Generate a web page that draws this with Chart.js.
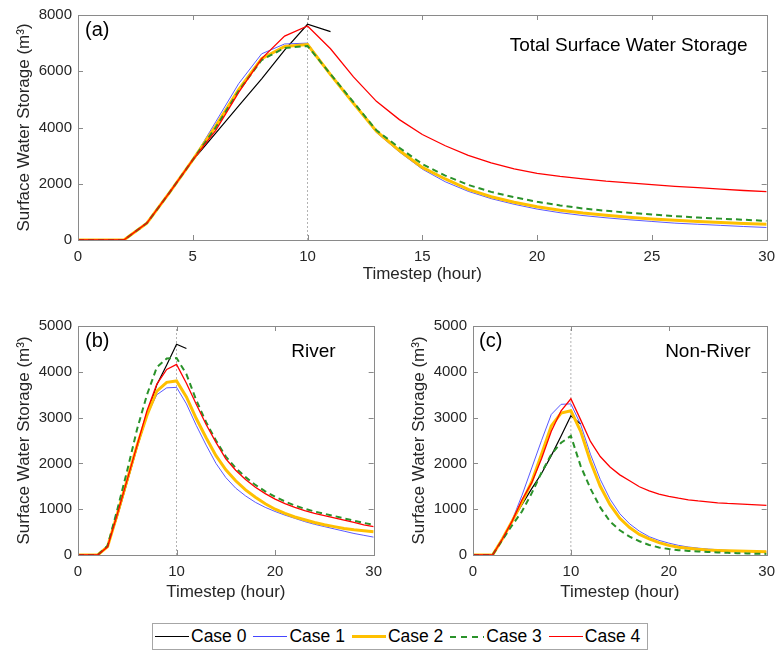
<!DOCTYPE html>
<html>
<head>
<meta charset="utf-8">
<script src="https://cdn.jsdelivr.net/npm/chart.js@4.4.0/dist/chart.umd.min.js"></script>
<style>
    html, body { margin: 0; padding: 0; background: #fff; }
    body { width: 783px; height: 651px; position: relative; overflow: hidden; font-family: 'Liberation Sans', Arial, sans-serif; }
    canvas { position: absolute; }
    #legend {
        position: absolute; left: 152px; top: 623px; width: 496px; height: 27px;
        box-sizing: border-box; border: 1px solid #a6a6a6; background: #fff;
        display: flex; align-items: center; padding-left: 2px;
        font-size: 17.5px; color: #000; white-space: nowrap;
    }
    #legend .item { display: flex; align-items: center; margin-right: 7px; }
    #legend .swatch { display: inline-block; width: 34px; margin-right: 2px; }
</style>
</head>
<body>
<canvas id="totalChart" width="783" height="285" style="left:0;top:0"></canvas>
<canvas id="riverChart" width="390" height="303" style="left:0;top:300px"></canvas>
<canvas id="nonRiverChart" width="388" height="303" style="left:395px;top:300px"></canvas>
<div id="legend"></div>

<script>
    // Timestep (hour)
    const hours = [0, 1, 2, 3, 4, 5, 6, 7, 8, 9, 10, 11, 12, 13, 14, 15, 16, 17, 18, 19, 20,
                   21, 22, 23, 24, 25, 26, 27, 28, 29, 30];
    const caseNames = ['Case 0', 'Case 1', 'Case 2', 'Case 3', 'Case 4'];
    const peakHour = 10;

    // (a) Total surface water storage (m3)
    const total0 = [0, 0, 0, 600, 1700, 2830, 3800, 4770, 5730, 6750, 7670, 7410];
    const total1 = [0, 0, 0, 600, 1700, 2850, 4200, 5560, 6620, 6970, 7000, 5900, 4850, 3820, 3130, 2520,
                    2070, 1730, 1470, 1270, 1100, 970, 870, 790, 720, 660, 600, 560, 520, 480, 445];
    const total2 = [0, 0, 0, 600, 1700, 2850, 4050, 5350, 6450, 6880, 6950, 5880, 4860, 3870, 3180, 2580,
                    2170, 1800, 1540, 1340, 1180, 1060, 960, 880, 810, 750, 700, 660, 620, 590, 560];
    const total3 = [0, 0, 0, 600, 1700, 2850, 4000, 5300, 6400, 6830, 6900, 5900, 4900, 3900, 3280, 2700,
                    2290, 1960, 1710, 1520, 1360, 1230, 1120, 1040, 970, 910, 850, 800, 760, 720, 680];
    const total4 = [0, 0, 0, 600, 1700, 2850, 3900, 5250, 6450, 7250, 7610, 6800, 5800, 4930, 4280, 3750,
                    3350, 3010, 2740, 2530, 2370, 2260, 2170, 2090, 2030, 1970, 1910, 1860, 1810, 1760, 1720];

    // (b) River
    const river0 = [0, 0, 0, 180, 850, 1600, 2350, 3050, 3720, 4150, 4600, 4510];
    const river1 = [0, 0, 0, 180, 900, 1650, 2400, 3050, 3500, 3650, 3660, 3300, 2830, 2400, 2000, 1690,
                    1460, 1290, 1150, 1040, 950, 870, 800, 730, 670, 620, 570, 520, 470, 430, 390];
    const river2 = [0, 0, 0, 180, 900, 1650, 2400, 3050, 3580, 3770, 3800, 3450, 2980, 2560, 2170, 1860,
                    1620, 1420, 1260, 1120, 1000, 910, 830, 770, 710, 660, 620, 580, 550, 530, 510];
    const river3 = [0, 0, 0, 200, 1000, 1850, 2750, 3500, 4100, 4290, 4300, 3950, 3380, 2900, 2500, 2150,
                    1900, 1700, 1530, 1390, 1270, 1170, 1080, 1010, 950, 900, 850, 800, 750, 700, 660];
    const river4 = [0, 0, 0, 180, 900, 1650, 2400, 3150, 3730, 4050, 4160, 3750, 3290, 2850, 2460, 2100,
                    1850, 1650, 1480, 1340, 1220, 1120, 1040, 970, 910, 860, 810, 760, 710, 660, 620];

    // (c) Non-River
    const nonRiver0 = [0, 0, 0, 350, 750, 1100, 1450, 1780, 2170, 2600, 3040, 2860];
    const nonRiver1 = [0, 0, 0, 350, 760, 1300, 1900, 2500, 3070, 3290, 3300, 2850, 2200, 1650, 1220, 900,
                       680, 520, 400, 320, 260, 210, 175, 150, 130, 115, 100, 90, 80, 72, 65];
    const nonRiver2 = [0, 0, 0, 350, 740, 1150, 1600, 2200, 2820, 3100, 3150, 2700, 2040, 1500, 1100, 800,
                       600, 450, 350, 270, 210, 170, 145, 125, 110, 100, 92, 86, 80, 76, 73];
    const nonRiver3 = [0, 0, 0, 330, 650, 950, 1350, 1800, 2200, 2450, 2600, 1940, 1450, 1040, 730, 540,
                       400, 300, 220, 165, 130, 105, 90, 78, 66, 56, 48, 40, 34, 28, 24];
    const nonRiver4 = [0, 0, 0, 350, 740, 1200, 1580, 2100, 2700, 3150, 3410, 2950, 2480, 2150, 1920, 1750,
                       1620, 1490, 1400, 1330, 1280, 1240, 1205, 1180, 1160, 1140, 1125, 1115, 1105, 1095, 1085];

    // estilos de línea por caso
    const caseStyles = [
        { color: '#000000', width: 1.2, dash: [] },
        { color: '#4646ff', width: 0.9, dash: [] },
        { color: '#ffc000', width: 3, dash: [] },
        { color: '#2a922a', width: 2, dash: [6, 4] },
        { color: '#ff0000', width: 1.3, dash: [] },
    ];

    Chart.defaults.font.family = "'Liberation Sans', Arial, sans-serif";
    Chart.defaults.color = '#262626';

    // caja estilo MATLAB con ticks hacia adentro
    const boxPlugin = {
        id: 'matlabBox',
        afterDatasetsDraw(chart) {
            const { ctx, chartArea: a, scales: { x, y } } = chart;
            ctx.save();
            ctx.strokeStyle = '#8a8a8a';
            ctx.lineWidth = 1;
            ctx.strokeRect(Math.round(a.left) + 0.5, Math.round(a.top) + 0.5,
                Math.round(a.right - a.left), Math.round(a.bottom - a.top));
            ctx.beginPath();
            x.ticks.forEach((t, i) => {
                const px = Math.round(x.getPixelForTick(i)) + 0.5;
                ctx.moveTo(px, a.bottom); ctx.lineTo(px, a.bottom - 5);
                ctx.moveTo(px, a.top); ctx.lineTo(px, a.top + 5);
            });
            y.ticks.forEach((t, i) => {
                const py = Math.round(y.getPixelForTick(i)) + 0.5;
                ctx.moveTo(a.left, py); ctx.lineTo(a.left + 5, py);
                ctx.moveTo(a.right, py); ctx.lineTo(a.right - 5, py);
            });
            ctx.stroke();
            ctx.restore();
        }
    };

    // etiquetas del panel: (a), (b), (c) y el nombre
    const panelTextPlugin = {
        id: 'panelText',
        afterDraw(chart, args, opts) {
            const { ctx, chartArea: a } = chart;
            ctx.save();
            ctx.fillStyle = '#000';
            ctx.textBaseline = 'alphabetic';
            ctx.font = "20px 'Liberation Sans', Arial, sans-serif";
            ctx.textAlign = 'left';
            ctx.fillText(opts.tag, a.left + opts.tagLeft, a.top + 21);
            ctx.font = "19px 'Liberation Sans', Arial, sans-serif";
            ctx.textAlign = 'right';
            ctx.fillText(opts.caption, a.right - opts.captionRight, a.top + opts.captionBaseline);
            ctx.restore();
        }
    };

    function makeChart(canvasId, series, yMax, yStep, xStep, padding, xHeight, text) {
        const datasets = series.map((data, i) => ({
            label: caseNames[i],
            data: data,
            borderColor: caseStyles[i].color,
            borderWidth: caseStyles[i].width,
            borderDash: caseStyles[i].dash,
            pointRadius: 0,
            tension: 0,
            fill: false,
            order: 5 - i,
        }));
        // línea punteada vertical en la hora pico
        datasets.push({
            label: 'peak',
            data: [{ x: peakHour, y: 0 }, { x: peakHour, y: yMax }],
            borderColor: '#a0a0a0',
            borderWidth: 0.8,
            borderDash: [2, 2],
            pointRadius: 0,
            order: 10,
        });

        return new Chart(document.getElementById(canvasId), {
            type: 'line',
            data: { labels: hours, datasets: datasets },
            options: {
                responsive: false,
                animation: false,
                devicePixelRatio: 1,
                layout: { padding: padding },
                plugins: {
                    legend: { display: false },
                    tooltip: { enabled: false },
                    panelText: text,
                },
                scales: {
                    x: {
                        type: 'linear',
                        min: 0, max: 30,
                        grid: { display: false, drawTicks: false },
                        border: { display: false },
                        ticks: { stepSize: xStep, padding: 8, maxRotation: 0, font: { size: 15 },
                                 callback: v => String(v) },
                        title: { display: true, text: 'Timestep (hour)', font: { size: 17 }, padding: { top: 0, bottom: 0 } },
                        afterFit: s => { s.height = xHeight; },
                    },
                    y: {
                        min: 0, max: yMax,
                        grid: { display: false, drawTicks: false },
                        border: { display: false },
                        ticks: { stepSize: yStep, padding: 6, font: { size: 15 },
                                 callback: v => String(v) },
                        title: { display: true, text: 'Surface Water Storage (m³)', font: { size: 17 }, padding: { top: 14, bottom: 0 } },
                        afterFit: s => { s.width = 78; },
                    },
                },
            },
            plugins: [boxPlugin, panelTextPlugin],
        });
    }

    makeChart('totalChart', [total0, total1, total2, total3, total4], 8000, 2000, 5,
        { top: 12, right: 10, left: 0, bottom: 0 }, 45,
        { tag: '(a)', tagLeft: 7, caption: 'Total Surface Water Storage', captionRight: 19, captionBaseline: 36 });

    makeChart('riverChart', [river0, river1, river2, river3, river4], 5000, 1000, 10,
        { top: 26, right: 12, left: 0, bottom: 0 }, 48,
        { tag: '(b)', tagLeft: 7, caption: 'River', captionRight: 38, captionBaseline: 31 });

    makeChart('nonRiverChart', [nonRiver0, nonRiver1, nonRiver2, nonRiver3, nonRiver4], 5000, 1000, 10,
        { top: 26, right: 10, left: 0, bottom: 0 }, 48,
        { tag: '(c)', tagLeft: 6, caption: 'Non-River', captionRight: 16, captionBaseline: 31 });

    // leyenda común debajo de los paneles
    const legend = document.getElementById('legend');
    caseNames.forEach((name, i) => {
        const st = caseStyles[i];
        const item = document.createElement('span');
        item.className = 'item';
        const swatch = document.createElement('span');
        swatch.className = 'swatch';
        swatch.style.height = Math.max(1, Math.round(st.width)) + 'px';
        swatch.style.background = st.dash.length
            ? `repeating-linear-gradient(90deg, ${st.color} 0 6px, transparent 6px 11px)`
            : st.color;
        const label = document.createElement('span');
        label.textContent = name;
        item.appendChild(swatch);
        item.appendChild(label);
        legend.appendChild(item);
    });
</script>
</body>
</html>
